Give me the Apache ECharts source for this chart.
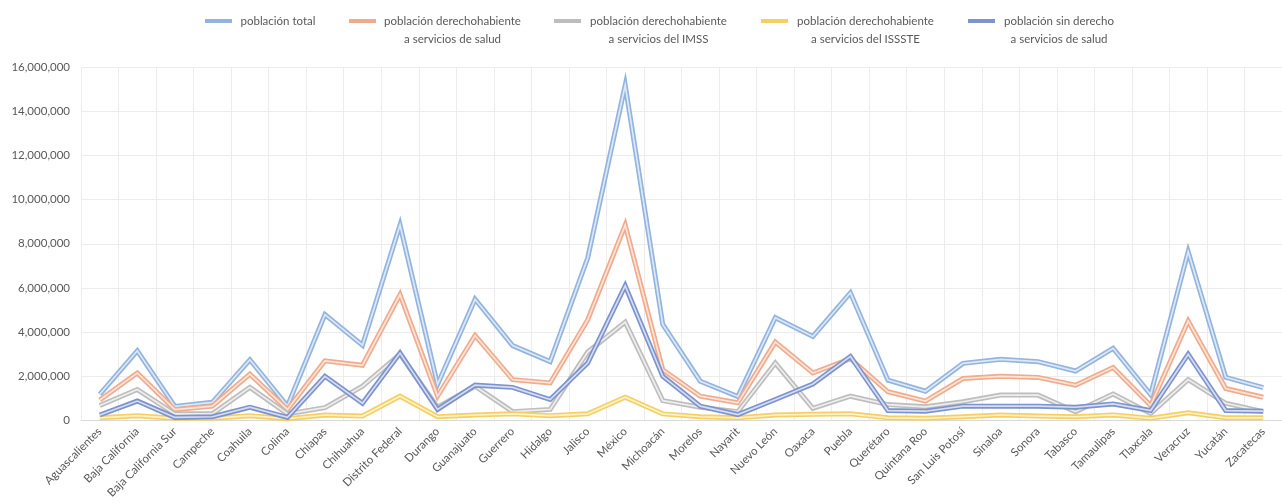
<!DOCTYPE html>
<html>
<head>
<meta charset="utf-8">
<script src="https://cdn.jsdelivr.net/npm/echarts@6/dist/echarts.min.js"></script>
<style>
html,body{margin:0;padding:0;background:#fff;}
#c{width:1282px;height:503px;}
</style>
</head>
<body>
<div id="c"></div>
<script>
const estados = ['Aguascalientes','Baja California','Baja California Sur','Campeche','Coahuila','Colima','Chiapas','Chihuahua','Distrito Federal','Durango','Guanajuato','Guerrero','Hidalgo','Jalisco','México','Michoacán','Morelos','Nayarit','Nuevo León','Oaxaca','Puebla','Querétaro','Quintana Roo','San Luis Potosí','Sinaloa','Sonora','Tabasco','Tamaulipas','Tlaxcala','Veracruz','Yucatán','Zacatecas'];

const seriesNames = ['población total','población derechohabiente\na servicios de salud','población derechohabiente\na servicios del IMSS','población derechohabiente\na servicios del ISSSTE','población sin derecho\na servicios de salud'];

const poblacionTotal = [1184996,3155070,637026,822441,2748391,650555,4796580,3406465,8851080,1632934,5486372,3388768,2665018,7350682,15175862,4351037,1777227,1084979,4653458,3801962,5779829,1827937,1325578,2585518,2767761,2662480,2238603,3268554,1169936,7643194,1955577,1490668];
const derechohabienteSalud = [930000,2150000,490000,650000,2100000,500000,2700000,2500000,5700000,1100000,3850000,1850000,1700000,4550000,8850000,2300000,1100000,800000,3550000,2150000,2800000,1300000,880000,1900000,2000000,1950000,1600000,2400000,680000,4500000,1450000,1050000];
const derechohabienteIMSS = [680000,1400000,300000,300000,1500000,300000,580000,1550000,3000000,600000,1550000,400000,500000,3100000,4450000,900000,600000,400000,2600000,550000,1100000,720000,620000,850000,1150000,1150000,400000,1200000,320000,1850000,780000,400000];
const derechohabienteISSSTE = [120000,220000,100000,100000,220000,80000,250000,200000,1100000,170000,250000,300000,220000,300000,1050000,300000,170000,120000,250000,280000,300000,120000,100000,170000,250000,200000,170000,250000,100000,350000,120000,120000];
const sinDerecho = [250000,880000,140000,170000,600000,140000,2000000,780000,3050000,500000,1600000,1500000,950000,2600000,6100000,2000000,650000,270000,950000,1650000,2900000,450000,420000,650000,650000,650000,600000,750000,450000,3000000,450000,420000];

const yTicks = {min: 0, max: 16000000, interval: 2000000};

const dataSets = [poblacionTotal, derechohabienteSalud, derechohabienteIMSS, derechohabienteISSSTE, sinDerecho];
const outerColors = ['#92b4de','#efab8c','#bdbdbd','#f5cf62','#7c93cd'];
const innerColors = ['#dde8f6','#fbe4d9','#eeeeee','#fdf2cc','#d6ddf1'];
const richKeys = ['t1','t2','t3','t4','t5'];

const series = [];
dataSets.forEach((d, i) => {
  series.push({
    name: seriesNames[i], type: 'line', data: d, symbol: 'none',
    lineStyle: {width: 5, color: outerColors[i], join: 'miter'},
    itemStyle: {color: outerColors[i]},
    emphasis: {disabled: true}, z: 2 + i * 2
  });
  series.push({
    name: seriesNames[i], type: 'line', data: d, symbol: 'none',
    lineStyle: {width: 1.7, color: innerColors[i], join: 'miter'},
    itemStyle: {color: outerColors[i]},
    emphasis: {disabled: true}, z: 3 + i * 2
  });
});

const fontFam = 'Lato, "Open Sans", sans-serif';
const richBase = {align: 'center', lineHeight: 18, fontFamily: fontFam, fontSize: 11.5, color: '#595959'};
const chart = echarts.init(document.getElementById('c'), null, {renderer: 'canvas'});
chart.setOption({
  animation: false,
  backgroundColor: '#ffffff',
  legend: {
    data: seriesNames,
    left: 205, top: -3, padding: 0,
    itemGap: 30, itemWidth: 27, itemHeight: 4,
    icon: 'rect',
    selectedMode: false,
    formatter: function (name) {
      const k = richKeys[seriesNames.indexOf(name)];
      const lines = name.split('\n');
      if (lines.length === 1) return '{' + k + '|' + lines[0] + '}';
      return '{' + k + '| }\n' + lines.map(l => '{' + k + '|' + l + '}').join('\n');
    },
    textStyle: {
      color: '#595959', fontFamily: fontFam, fontSize: 11.5,
      rich: {
        t1: Object.assign({width: 82}, richBase),
        t2: Object.assign({width: 143}, richBase),
        t3: Object.assign({width: 145}, richBase),
        t4: Object.assign({width: 145}, richBase),
        t5: Object.assign({width: 118}, richBase)
      }
    }
  },
  grid: {left: 81, top: 67, bottom: 82.5, width: 1214, containLabel: false},
  xAxis: {
    type: 'category', data: estados, boundaryGap: true,
    axisLine: {lineStyle: {color: '#d9d9d9'}},
    axisTick: {show: false},
    splitLine: {show: true, interval: 0, lineStyle: {color: '#ececec'}},
    axisLabel: {interval: 0, rotate: 45, margin: 9, color: '#595959', fontFamily: fontFam, fontSize: 11.5}
  },
  yAxis: {
    type: 'value', min: yTicks.min, max: yTicks.max, interval: yTicks.interval,
    axisLine: {show: false}, axisTick: {show: false},
    splitLine: {lineStyle: {color: '#ececec'}},
    axisLabel: {margin: 11, color: '#595959', fontFamily: fontFam, fontSize: 11.5,
      formatter: v => v.toLocaleString('en-US')}
  },
  series: series
});
</script>
</body>
</html>
